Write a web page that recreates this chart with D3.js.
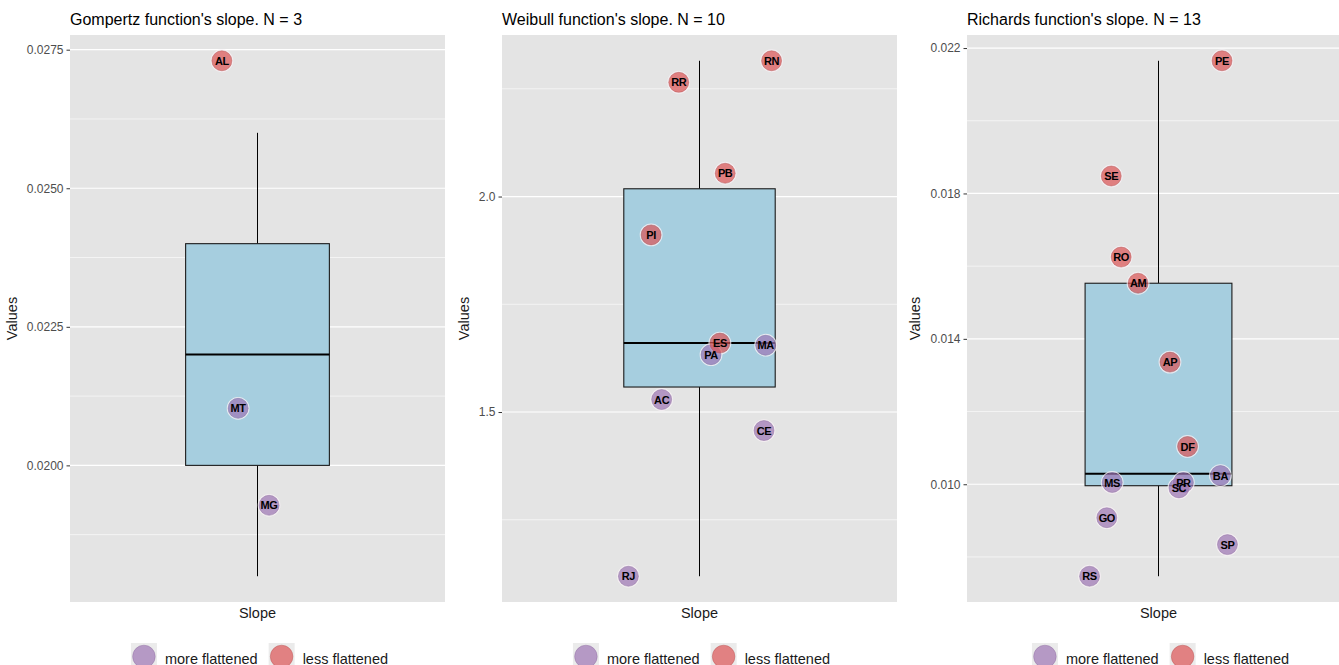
<!DOCTYPE html>
<html>
<head>
<meta charset="utf-8">
<script src="https://cdn.jsdelivr.net/npm/d3@7"></script>
<style>
  html, body { margin: 0; padding: 0; background: #ffffff; }
  svg { display: block; font-family: "Liberation Sans", Arial, sans-serif; }
</style>
</head>
<body>
<svg id="chart" width="1339" height="665"></svg>
<script>
// ---- Gompertz ----
const gompertzTitle = "Gompertz function's slope. N = 3";
const gompertzCodes = ["AL", "MT", "MG"];
const gompertzValues = [0.0273, 0.02103, 0.01928];
const gompertzGroups = ["less", "more", "more"];
const gompertzJitter = [-0.114, -0.062, 0.037];
// lower whisker, Q1, median, Q3, upper whisker
const gompertzBox = [0.0180, 0.0200, 0.0220, 0.0240, 0.0260];
const gompertzTicks = [0.0200, 0.0225, 0.0250, 0.0275];
const gompertzTickFormat = ".4f";

// ---- Weibull ----
const weibullTitle = "Weibull function's slope. N = 10";
const weibullCodes = ["RN", "RR", "PB", "PI", "PA", "ES", "MA", "AC", "CE", "RJ"];
const weibullValues = [2.315, 2.265, 2.054, 1.911, 1.633, 1.660, 1.655, 1.529, 1.457, 1.119];
const weibullGroups = ["less", "less", "less", "less", "more", "less", "more", "more", "more", "more"];
const weibullJitter = [0.219, -0.063, 0.078, -0.147, 0.035, 0.062, 0.201, -0.115, 0.196, -0.216];
const weibullBox = [1.119, 1.558, 1.660, 2.018, 2.315];
const weibullTicks = [1.5, 2.0];
const weibullTickFormat = ".1f";

// ---- Richards ----
const richardsTitle = "Richards function's slope. N = 13";
const richardsCodes = ["PE", "SE", "RO", "AM", "AP", "DF", "BA", "MS", "SC", "PR", "GO", "SP", "RS"];
const richardsValues = [0.02165, 0.01848, 0.01625, 0.01553, 0.01336, 0.01104, 0.01024, 0.01005, 0.0099, 0.01005, 0.00908, 0.00834, 0.00747];
const richardsGroups = ["less", "less", "less", "less", "less", "less", "more", "more", "more", "more", "more", "more", "more"];
const richardsJitter = [0.199, -0.148, -0.117, -0.064, 0.036, 0.091, 0.194, -0.145, 0.064, 0.078, -0.162, 0.216, -0.216];
const richardsBox = [0.00747, 0.00996, 0.01029, 0.01553, 0.02165];
const richardsTicks = [0.010, 0.014, 0.018, 0.022];
const richardsTickFormat = ".3f";

const category = "Slope";
const groupKeys = ["more", "less"];
const groupLabels = ["more flattened", "less flattened"];
const groupColors = { more: "#9e76b5", less: "#dd5456" };
const groupEdges = { more: "#8a679e", less: "#b34a4c" };

// Panel frames (pixels)
const frames = [
  { left: 70, right: 445 },
  { left: 502, right: 897 },
  { left: 967, right: 1350 }
];
const panelTop = 35, panelBottom = 602;

const panels = [
  { title: gompertzTitle, codes: gompertzCodes, values: gompertzValues, groups: gompertzGroups, jitter: gompertzJitter, box: gompertzBox, ticks: gompertzTicks, fmt: gompertzTickFormat },
  { title: weibullTitle, codes: weibullCodes, values: weibullValues, groups: weibullGroups, jitter: weibullJitter, box: weibullBox, ticks: weibullTicks, fmt: weibullTickFormat },
  { title: richardsTitle, codes: richardsCodes, values: richardsValues, groups: richardsGroups, jitter: richardsJitter, box: richardsBox, ticks: richardsTicks, fmt: richardsTickFormat }
];

const svg = d3.select("#chart");

panels.forEach((p, i) => {
  const f = frames[i];
  const g = svg.append("g");

  // y scale: data range padded by 5% on each side
  const all = p.values.concat(p.box);
  const [lo, hi] = d3.extent(all);
  const pad = (hi - lo) * 0.05;
  const y = d3.scaleLinear().domain([lo - pad, hi + pad]).range([panelBottom, panelTop]);
  // x: single discrete category at 1, padded 0.6 on each side
  const x = d3.scaleLinear().domain([0.4, 1.6]).range([f.left, f.right]);

  // panel background
  g.append("rect")
    .attr("x", f.left).attr("y", panelTop)
    .attr("width", f.right - f.left).attr("height", panelBottom - panelTop)
    .attr("fill", "#e4e4e4");

  // minor gridlines (midpoints between major ticks, extended past ends)
  const step = p.ticks[1] - p.ticks[0];
  const minor = [];
  for (let k = -1; k < p.ticks.length; k++) {
    const v = p.ticks[0] + step * (k + 0.5);
    if (v > y.domain()[0] && v < y.domain()[1]) minor.push(v);
  }
  g.selectAll(".minor").data(minor).join("line")
    .attr("x1", f.left).attr("x2", f.right)
    .attr("y1", d => y(d)).attr("y2", d => y(d))
    .attr("stroke", "#ffffff").attr("stroke-width", 0.6);
  g.selectAll(".major").data(p.ticks).join("line")
    .attr("x1", f.left).attr("x2", f.right)
    .attr("y1", d => y(d)).attr("y2", d => y(d))
    .attr("stroke", "#ffffff").attr("stroke-width", 1.2);

  // y axis
  const yAxis = d3.axisLeft(y).tickValues(p.ticks).tickFormat(d3.format(p.fmt)).tickSize(3.5).tickPadding(3);
  const ax = g.append("g").attr("transform", `translate(${f.left},0)`).call(yAxis);
  ax.select(".domain").remove();
  ax.selectAll(".tick line").attr("stroke", "#333333");
  ax.selectAll(".tick text").attr("fill", "#4d4d4d").style("font-size", "12px")
    .style("font-family", "'Liberation Sans', Arial, sans-serif");
  let maxW = 0;
  ax.selectAll(".tick text").each(function () { maxW = Math.max(maxW, this.getComputedTextLength()); });

  // y axis title
  const cy = (panelTop + panelBottom) / 2;
  const tx = f.left - 6.5 - maxW - 10;
  g.append("text")
    .attr("transform", `translate(${tx},${cy}) rotate(-90)`)
    .attr("text-anchor", "middle")
    .attr("fill", "#1a1a1a")
    .style("font-size", "14.5px")
    .text("Values");

  // x category label
  g.append("text")
    .attr("x", x(1)).attr("y", 618)
    .attr("text-anchor", "middle")
    .attr("fill", "#1a1a1a")
    .style("font-size", "14.5px")
    .text(category);

  // title
  g.append("text")
    .attr("x", f.left).attr("y", 25)
    .attr("fill", "#000000")
    .style("font-size", "16px")
    .text(p.title);

  // boxplot
  const [wLo, q1, med, q3, wHi] = p.box;
  const half = 0.23;
  g.append("line")
    .attr("x1", x(1)).attr("x2", x(1))
    .attr("y1", y(wHi)).attr("y2", y(q3))
    .attr("stroke", "#000000").attr("stroke-width", 1);
  g.append("line")
    .attr("x1", x(1)).attr("x2", x(1))
    .attr("y1", y(q1)).attr("y2", y(wLo))
    .attr("stroke", "#000000").attr("stroke-width", 1);
  g.append("rect")
    .attr("x", x(1 - half)).attr("y", y(q3))
    .attr("width", x(1 + half) - x(1 - half))
    .attr("height", y(q1) - y(q3))
    .attr("fill", "#a6cedf")
    .attr("stroke", "#1a1a1a").attr("stroke-width", 1.1);
  g.append("line")
    .attr("x1", x(1 - half)).attr("x2", x(1 + half))
    .attr("y1", y(med)).attr("y2", y(med))
    .attr("stroke", "#000000").attr("stroke-width", 2);

  // points: light halo, translucent fill, then code labels on top
  const pts = p.codes.map((c, j) => ({ code: c, value: p.values[j], group: p.groups[j], jit: p.jitter[j] }));
  g.selectAll(".halo").data(pts).join("circle")
    .attr("cx", d => x(1 + d.jit)).attr("cy", d => y(d.value))
    .attr("r", 10.8)
    .attr("fill", "none")
    .attr("stroke", "#f7f0f5").attr("stroke-opacity", 0.8).attr("stroke-width", 1.2);
  g.selectAll(".pt").data(pts).join("circle")
    .attr("cx", d => x(1 + d.jit)).attr("cy", d => y(d.value))
    .attr("r", 10)
    .attr("fill", d => groupColors[d.group]).attr("fill-opacity", 0.7)
    .attr("stroke", d => groupEdges[d.group]).attr("stroke-opacity", 0.5).attr("stroke-width", 0.8);
  g.selectAll(".lbl").data(pts).join("text")
    .attr("x", d => x(1 + d.jit)).attr("y", d => y(d.value))
    .attr("dy", "0.37em")
    .attr("text-anchor", "middle")
    .attr("fill", "#000000")
    .style("font-size", "11px").style("font-weight", "bold")
    .style("letter-spacing", "-0.4px")
    .text(d => d.code);

  // legend
  const lg = g.append("g");
  let cx = 0;
  groupKeys.forEach((k, j) => {
    const item = lg.append("g").attr("transform", `translate(${cx},0)`);
    item.append("rect").attr("x", 0).attr("y", 643).attr("width", 26).attr("height", 26).attr("fill", "#ebebeb");
    item.append("circle").attr("cx", 13).attr("cy", 656.5).attr("r", 11.3)
      .attr("fill", groupColors[k]).attr("fill-opacity", 0.7)
      .attr("stroke", groupEdges[k]).attr("stroke-opacity", 0.5).attr("stroke-width", 0.8);
    const t = item.append("text").attr("x", 34).attr("y", 663.5)
      .attr("fill", "#1a1a1a").style("font-size", "14.5px").text(groupLabels[j]);
    cx += 34 + t.node().getComputedTextLength() + 11;
  });
  const total = cx - 11;
  lg.attr("transform", `translate(${x(1) - total / 2 + 2},0)`);
});
</script>
</body>
</html>
